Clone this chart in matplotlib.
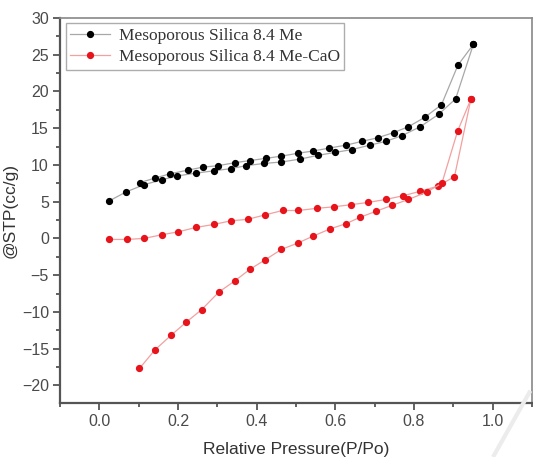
import matplotlib
matplotlib.use("Agg")
import matplotlib.pyplot as plt
from matplotlib.lines import Line2D
from matplotlib.ticker import MultipleLocator

# Mesoporous Silica 8.4 Me: adsorption then desorption branch
me_ads_x = [0.025, 0.067, 0.113, 0.160, 0.198, 0.247, 0.291, 0.335, 0.373, 0.418,
            0.463, 0.511, 0.555, 0.599, 0.643, 0.688, 0.728, 0.770, 0.816, 0.863,
            0.906, 0.951]
me_ads_y = [5.1, 6.3, 7.3, 8.0, 8.5, 8.9, 9.2, 9.5, 9.9, 10.2,
            10.4, 10.8, 11.3, 11.7, 12.1, 12.7, 13.2, 14.0, 15.2, 16.9,
            19.0, 26.4]
me_des_x = [0.951, 0.912, 0.870, 0.828, 0.786, 0.748, 0.708, 0.667, 0.628, 0.585,
            0.544, 0.506, 0.463, 0.424, 0.383, 0.344, 0.302, 0.263, 0.226, 0.180,
            0.141, 0.103]
me_des_y = [26.4, 23.6, 18.2, 16.5, 15.2, 14.4, 13.7, 13.2, 12.7, 12.3,
            11.9, 11.6, 11.2, 10.9, 10.6, 10.3, 9.9, 9.7, 9.3, 8.8,
            8.2, 7.6]

# Mesoporous Silica 8.4 Me-CaO
cao_a_x = [0.025, 0.070, 0.114, 0.159, 0.201, 0.246, 0.291, 0.335, 0.378, 0.421,
           0.466, 0.506, 0.554, 0.597, 0.641, 0.684, 0.728, 0.772, 0.815, 0.860,
           0.903, 0.945]
cao_a_y = [-0.14, -0.14, 0.0, 0.5, 0.9, 1.5, 1.9, 2.4, 2.6, 3.2,
           3.8, 3.8, 4.1, 4.3, 4.6, 4.9, 5.3, 5.8, 6.4, 7.1,
           8.4, 19.0]
cao_b_x = [0.102, 0.141, 0.182, 0.221, 0.260, 0.304, 0.344, 0.383, 0.422, 0.463,
           0.506, 0.543, 0.587, 0.627, 0.664, 0.704, 0.744, 0.786, 0.832, 0.871,
           0.911, 0.945]
cao_b_y = [-17.7, -15.2, -13.2, -11.4, -9.7, -7.3, -5.8, -4.2, -2.9, -1.5,
           -0.6, 0.3, 1.3, 2.0, 2.9, 3.7, 4.5, 5.3, 6.3, 7.5,
           14.6, 19.0]

labels = ["Mesoporous Silica 8.4 Me", "Mesoporous Silica 8.4 Me-CaO"]

fig = plt.figure(figsize=(5.33, 4.57), dpi=100)
ax = fig.add_axes([0.1126, 0.1182, 0.8854, 0.8424])

mk = dict(marker="o", markersize=4.2, lw=0.9)
ax.plot(me_ads_x + me_des_x, me_ads_y + me_des_y, color="#a8a8a8",
        markerfacecolor="black", markeredgecolor="black", **mk)
ax.plot(cao_a_x, cao_a_y, color="#f2a0a0",
        markerfacecolor="#e8141c", markeredgecolor="#e8141c", **mk)
ax.plot(cao_b_x, cao_b_y, color="#f2a0a0",
        markerfacecolor="#e8141c", markeredgecolor="#e8141c", **mk)

ax.set_xlim(-0.1, 1.1)
ax.set_ylim(-22.4, 30)
ax.xaxis.set_major_locator(MultipleLocator(0.2))
ax.xaxis.set_minor_locator(MultipleLocator(0.1))
ax.yaxis.set_major_locator(MultipleLocator(5))
ax.yaxis.set_minor_locator(MultipleLocator(2.5))
ax.set_xticks([0.0, 0.2, 0.4, 0.6, 0.8, 1.0])
ax.set_xticklabels(["0.0", "0.2", "0.4", "0.6", "0.8", "1.0"])

tick_col = "#555555"
ax.tick_params(which="both", direction="out", color=tick_col, width=1.3,
               labelsize=11.5, labelcolor="#4a4a4a",
               top=False, right=False, pad=3)
ax.tick_params(which="major", length=5)
ax.tick_params(which="minor", length=3)
for side in ["left", "bottom"]:
    ax.spines[side].set_color(tick_col)
    ax.spines[side].set_linewidth(1.6)
for side in ["top", "right"]:
    ax.spines[side].set_color("#888888")
    ax.spines[side].set_linewidth(1.2)

font = "Liberation Sans"
for lab in ax.get_xticklabels() + ax.get_yticklabels():
    lab.set_family(font)
ax.set_xlabel("Relative Pressure(P/Po)", fontsize=12.5, family=font,
              color="#333333", labelpad=9)
ax.set_ylabel("@STP(cc/g)", fontsize=12.5, family=font,
              color="#333333", labelpad=3)

handles = [
    Line2D([], [], color="#a8a8a8", marker="o", markersize=4.2,
           markerfacecolor="black", markeredgecolor="black", lw=0.9),
    Line2D([], [], color="#f2a0a0", marker="o", markersize=4.2,
           markerfacecolor="#e8141c", markeredgecolor="#e8141c", lw=0.9),
]
leg = ax.legend(handles, labels, loc="upper left", bbox_to_anchor=(0.005, 0.995),
                prop={"family": "Liberation Serif", "size": 12.5},
                handlelength=2.3, handletextpad=0.5, labelspacing=0.3,
                borderpad=0.25, borderaxespad=0.2, fancybox=False,
                labelcolor="#333333")
leg.get_frame().set_edgecolor("#999999")
leg.get_frame().set_linewidth(1.0)

# faint watermark stroke in the lower right corner
fig.add_artist(Line2D([0.925, 0.995], [0.0, 0.145], transform=fig.transFigure,
                      color="#ececec", lw=3, solid_capstyle="butt"))

fig.savefig("out.png", dpi=100)
